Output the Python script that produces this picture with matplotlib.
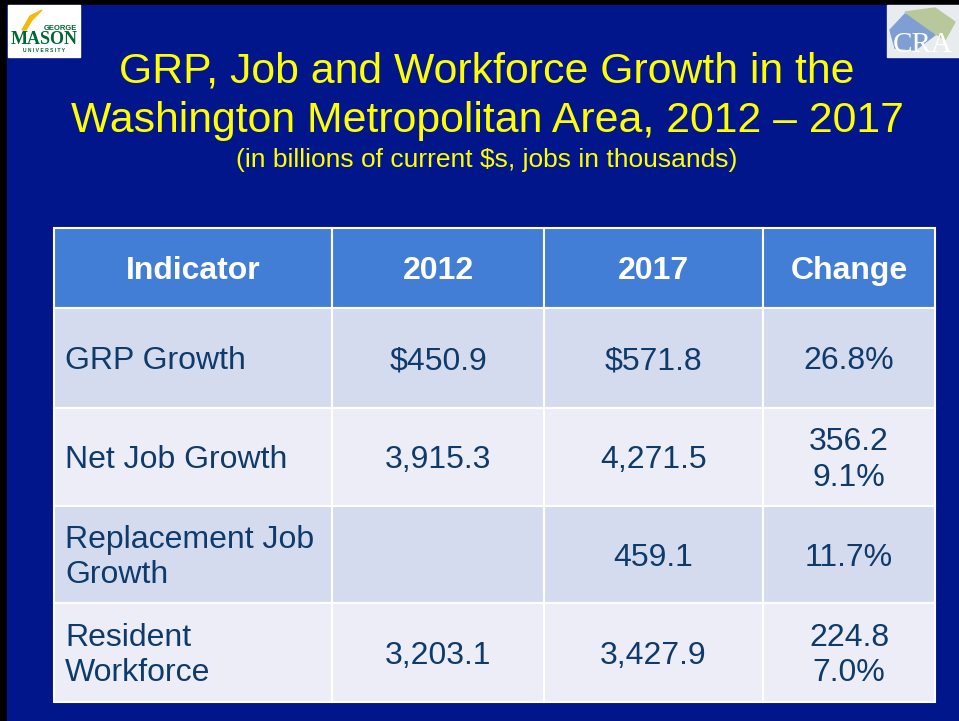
import matplotlib
matplotlib.use("Agg")
import matplotlib.pyplot as plt
from matplotlib.patches import Rectangle, Polygon

plt.rcParams['font.family'] = ['Liberation Sans', 'DejaVu Sans']

# table content
headers = ["Indicator", "2012", "2017", "Change"]
indicators = ["GRP Growth", "Net Job Growth", "Replacement Job\nGrowth", "Resident\nWorkforce"]
values_2012 = ["$450.9", "3,915.3", "", "3,203.1"]
values_2017 = ["$571.8", "4,271.5", "459.1", "3,427.9"]
changes = ["26.8%", "356.2\n9.1%", "11.7%", "224.8\n7.0%"]

title_lines = ["GRP, Job and Workforce Growth in the",
               "Washington Metropolitan Area, 2012 \u2013 2017"]
subtitle = "(in billions of current $s, jobs in thousands)"

# layout (pixels)
W, H = 959, 721
col_x = [54, 332, 544, 763, 935]
row_y = [228, 308, 408, 506, 603, 702]

navy = "#00168A"
head_blue = "#427DD6"
row_cols = ["#D5DBEE", "#ECEDF7"]
txt = "#0E3B6B"

fig = plt.figure(figsize=(W / 100, H / 100), dpi=100)
ax = fig.add_axes([0, 0, 1, 1])
ax.set_xlim(0, W)
ax.set_ylim(H, 0)
ax.axis('off')

# slide background with black edge at top/left
ax.add_patch(Rectangle((0, 0), W, H, color="black"))
ax.add_patch(Rectangle((7, 5), W - 7, H - 5, color=navy))

# GMU logo
ax.add_patch(Rectangle((8, 5), 72, 52, color="white"))
ax.add_patch(Polygon([(22, 30), (30, 16), (42, 10), (32, 20), (26, 30)], color="#F2B90F"))
ax.text(44, 28, "GEORGE", fontsize=5.5, fontweight='bold', color="#006633", ha='left', va='center')
ax.text(44, 40, "MASON", fontsize=13, fontweight='bold', color="#006633", ha='center', va='center',
        family='Liberation Serif')
ax.text(44, 51, "U N I V E R S I T Y", fontsize=3.6, fontweight='bold', color="#006633",
        ha='center', va='center')

# CRA logo
ax.add_patch(Rectangle((887, 5), 72, 52, color="#E8ECEF"))
ax.add_patch(Polygon([(890, 30), (905, 14), (925, 18), (935, 35), (915, 50), (895, 48)], color="#7F9FD4"))
ax.add_patch(Polygon([(905, 12), (935, 8), (955, 22), (945, 40), (930, 30)], color="#B8C89A"))
ax.text(923, 45, "CRA", fontsize=21, color="white", ha='center', va='center', family='Liberation Serif')

# titles
ax.text(487, 71, title_lines[0], fontsize=30.8, color="#FFFF00", ha='center', va='center')
ax.text(487, 121, title_lines[1], fontsize=30.8, color="#FFFF00", ha='center', va='center')
ax.text(487, 160, subtitle, fontsize=19, color="#FFFF00", ha='center', va='center')

# header row
for j, h in enumerate(headers):
    x0, x1 = col_x[j], col_x[j + 1]
    ax.add_patch(Rectangle((x0, row_y[0]), x1 - x0, row_y[1] - row_y[0],
                           facecolor=head_blue, edgecolor="white", lw=1.5))
    ax.text((x0 + x1) / 2, (row_y[0] + row_y[1]) / 2 + 3, h, fontsize=23, fontweight='bold',
            color="white", ha='center', va='center')

# body rows
for i in range(len(indicators)):
    y0, y1 = row_y[i + 1], row_y[i + 2]
    cells = [indicators[i], values_2012[i], values_2017[i], changes[i]]
    for j, c in enumerate(cells):
        x0, x1 = col_x[j], col_x[j + 1]
        ax.add_patch(Rectangle((x0, y0), x1 - x0, y1 - y0,
                               facecolor=row_cols[i % 2], edgecolor="white", lw=1.5))
        if j == 0:
            ax.text(x0 + 11, (y0 + y1) / 2 + 3, c, fontsize=23, color=txt, ha='left', va='center',
                    linespacing=1.25)
        else:
            ax.text((x0 + x1) / 2, (y0 + y1) / 2 + 3, c, fontsize=23, color=txt, ha='center',
                    va='center', linespacing=1.25)

fig.savefig("out.png", dpi=100, facecolor=navy)
